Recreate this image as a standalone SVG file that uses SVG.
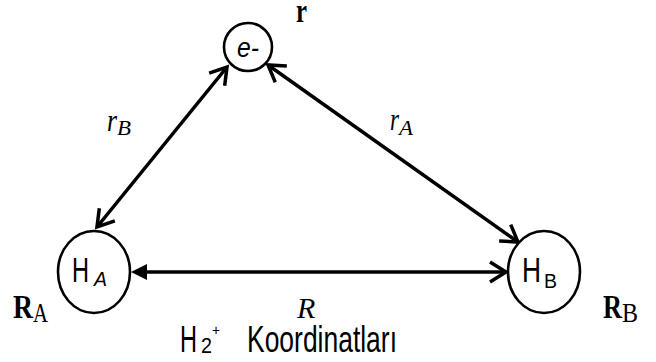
<svg xmlns="http://www.w3.org/2000/svg" width="656" height="362" viewBox="0 0 656 362">
<style>
.node{fill:#fff;stroke:#000;stroke-width:2.6}
.conn{stroke:#000;stroke-width:3.5;fill:none}
.sans{font-family:"Liberation Sans",Arial,sans-serif;fill:#000}
.serif{font-family:"Liberation Serif","Times New Roman",serif;fill:#000}
.it{font-style:italic}
.bd{font-weight:bold}
</style>
<defs>
<marker id="chev" markerUnits="userSpaceOnUse" orient="auto-start-reverse" refX="0" refY="0" markerWidth="40" markerHeight="40" viewBox="-20 -20 40 40" overflow="visible">
<path d="M-16,-10 L0,0 L-16,10" fill="none" stroke="#000" stroke-width="3.5" stroke-linejoin="miter"/>
</marker>
<marker id="tri" markerUnits="userSpaceOnUse" orient="auto-start-reverse" refX="0" refY="0" markerWidth="40" markerHeight="40" viewBox="-20 -20 40 40" overflow="visible">
<path d="M0,-8 L16,0 L0,8 Z" fill="#000" stroke="none"/>
</marker>
</defs>
<g id="connectors">
<line class="conn" x1="227" y1="67" x2="97" y2="227" marker-start="url(#chev)" marker-end="url(#chev)"/>
<line class="conn" x1="268" y1="65" x2="518" y2="242" marker-start="url(#chev)" marker-end="url(#chev)"/>
<line class="conn" x1="147" y1="272" x2="506" y2="272" marker-start="url(#tri)" marker-end="url(#chev)"/>
<text class="serif it" x="107" y="131" font-size="32" textLength="10" lengthAdjust="spacingAndGlyphs">r</text>
<text class="serif it" x="117" y="135" font-size="22" textLength="14" lengthAdjust="spacingAndGlyphs">B</text>
<text class="serif it" x="390" y="130" font-size="32" textLength="9" lengthAdjust="spacingAndGlyphs">r</text>
<text class="serif it" x="399" y="135" font-size="22" textLength="14" lengthAdjust="spacingAndGlyphs">A</text>
<text class="serif it" x="297" y="318" font-size="30">R</text>
</g>
<g id="electron">
<ellipse class="node" cx="248" cy="47" rx="24" ry="24"/>
<text class="sans it" x="237" y="57" font-size="27" textLength="22" lengthAdjust="spacingAndGlyphs">e-</text>
<text class="serif bd" x="296" y="22" font-size="34" textLength="11" lengthAdjust="spacingAndGlyphs">r</text>
</g>
<g id="HA">
<ellipse class="node" cx="94" cy="272" rx="36" ry="41"/>
<text class="sans" x="72" y="282" font-size="35" textLength="17" lengthAdjust="spacingAndGlyphs">H</text>
<text class="sans it" x="94" y="286" font-size="20" textLength="13" lengthAdjust="spacingAndGlyphs">A</text>
<text class="serif bd" x="13" y="318" font-size="34" textLength="20" lengthAdjust="spacingAndGlyphs">R</text>
<text class="serif" x="33" y="322" font-size="28" textLength="15" lengthAdjust="spacingAndGlyphs">A</text>
</g>
<g id="HB">
<ellipse class="node" cx="544" cy="272" rx="36" ry="41"/>
<text class="sans" x="522" y="282" font-size="35" textLength="19" lengthAdjust="spacingAndGlyphs">H</text>
<text class="sans" x="544" y="288" font-size="20" textLength="13" lengthAdjust="spacingAndGlyphs">B</text>
<text class="serif bd" x="603" y="318" font-size="34" textLength="19" lengthAdjust="spacingAndGlyphs">R</text>
<text class="serif" x="622" y="322" font-size="28" textLength="16" lengthAdjust="spacingAndGlyphs">B</text>
</g>
<g id="caption">
<text class="sans" x="180" y="352" font-size="37" textLength="17" lengthAdjust="spacingAndGlyphs">H</text>
<text class="sans" x="201" y="353" font-size="22" textLength="11" lengthAdjust="spacingAndGlyphs">2</text>
<text class="sans" x="212" y="335" font-size="14" textLength="8" lengthAdjust="spacingAndGlyphs">+</text>
<text class="sans" x="247" y="352" font-size="37" textLength="150" lengthAdjust="spacingAndGlyphs">Koordinatları</text>
</g>
</svg>
